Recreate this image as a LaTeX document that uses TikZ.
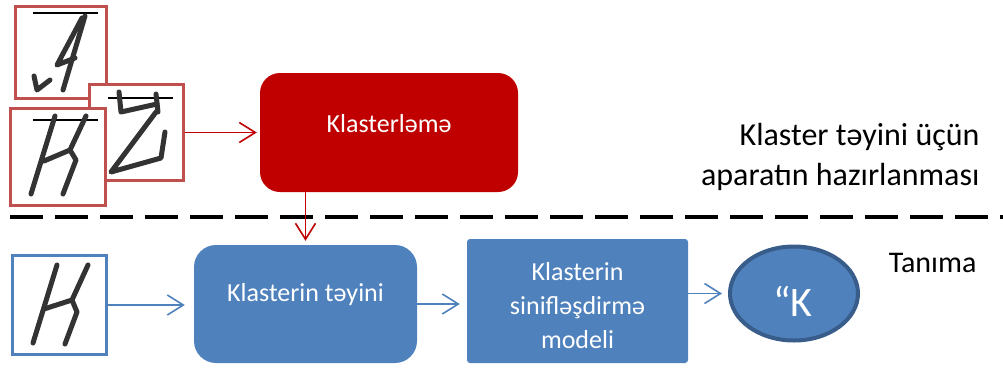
\documentclass[tikz,border=0pt]{standalone}
\usepackage{fontspec}
\setmainfont{Carlito}
\usepackage{tikz}
\usetikzlibrary{arrows.meta, positioning, shapes.geometric}
\definecolor{clusterred}{HTML}{C00000}
\definecolor{framered}{HTML}{C0504D}
\definecolor{officeblue}{HTML}{4F81BD}
\definecolor{officeedge}{HTML}{385D8A}
\tikzstyle{sample} = [
  rectangle, draw=framered, line width=3pt, fill=white, inner sep=0pt
]
\tikzstyle{redbox} = [
  rectangle, fill=clusterred, rounded corners=20pt, inner sep=0pt
]
\tikzstyle{bluebox} = [
  rectangle, fill=officeblue, inner sep=0pt
]
\tikzstyle{boxtext} = [text=white, font=\fontsize{26}{34}\selectfont, align=center]
\tikzstyle{sidetext} = [font=\fontsize{32}{40}\selectfont, align=right]
\tikzstyle{pen} = [line width=5pt, black!80, line cap=round, line join=round]
\tikzstyle{bar} = [line width=2pt, black]
\tikzstyle{redarrow} = [-{Straight Barb[length=16pt,width=20pt]}, clusterred, line width=1.6pt]
\tikzstyle{bluearrow} = [-{Straight Barb[length=16pt,width=20pt]}, officeblue, line width=1.6pt]

\begin{document}
\begin{tikzpicture}[x=1pt, y=-1pt]
  \useasboundingbox (0,0) rectangle (1003,367);

  % Training samples
  \node[sample, minimum width=91pt, minimum height=92pt] (sampleA) at (61,52.5) {};
  \draw[bar] (33,13) -- (98,13);
  \draw[pen] (85,16) -- (63,90);
  \draw[pen] (82,18) -- (57,65) -- (75,58);
  \draw[pen] (34,76) -- (37,90) -- (50,80);

  \node[sample, minimum width=94pt, minimum height=96pt] (sampleZ) at (136.5,132.5) {};
  \draw[bar] (108,98) -- (173,98);
  \draw[pen] (119,92) -- (121,112) -- (157,104);
  \draw[pen] (156,94) -- (158,112);
  \draw[pen] (156,112) -- (111,172) -- (161,158) -- (165,132);

  \node[sample, minimum width=95pt, minimum height=97pt] (sampleK) at (58,157) {};
  \draw[bar] (33,120) -- (98,120);
  \draw[pen] (55,116) -- (31,194);
  \draw[pen] (86,116) -- (70,150) -- (44,161);
  \draw[pen] (70,150) -- (76,160) -- (63,194);

  % Clustering
  \node[redbox, minimum width=258pt, minimum height=119pt] (klaster) at (389,132.5) {};
  \node[boxtext] (klastertext) at (389,124) {Klasterləmə};

  \node[sidetext, anchor=east] (prep) at (983,157) {Klaster təyini üçün\\aparatın hazırlanması};

  % Separator
  \draw[line width=4pt, dash pattern=on 33pt off 12pt] (10,217) -- (1003,217);

  % Recognition
  \node[sample, draw=officeblue, minimum width=94pt, minimum height=99pt] (input) at (59.5,305) {};
  \draw[pen] (57,265) -- (33,343);
  \draw[pen] (88,265) -- (72,300) -- (44,309);
  \draw[pen] (72,300) -- (77,312) -- (65,344);

  \node[bluebox, rounded corners=22pt, minimum width=223pt, minimum height=118pt] (tayin) at (305.5,304) {};
  \node[boxtext] (tayintext) at (305.5,295) {Klasterin təyini};

  \node[bluebox, rounded corners=3pt, minimum width=221pt, minimum height=124pt] (model) at (577.5,301) {};
  \node[boxtext] (modeltext) at (577.5,306) {Klasterin\\siniflәşdirmә\\modeli};

  \node[ellipse, fill=officeblue, draw=officeedge, line width=4pt, minimum width=128pt, minimum height=94pt, inner sep=0pt] (result) at (794,293.5) {};
  \node[text=white, font=\fontsize{42}{42}\selectfont] (resulttext) at (793,301) {“K};

  \node[font=\fontsize{30}{40}\selectfont, anchor=base east] (recog) at (980,272) {Tanıma};

  % Connections
  \draw[redarrow, shorten >=3pt] (sampleZ.east) -- (klaster.west);
  \draw[redarrow, shorten >=4pt] (tayin.north |- klaster.south) -- (tayin.north);
  \draw[bluearrow, shorten >=9pt] (input.east) -- (input.east -| tayin.west);
  \draw[bluearrow, shorten >=7pt] (tayin.east) -- (tayin.east -| model.west);
  \draw[bluearrow, shorten >=6pt] (model.east |- result.west) -- (result.west);

\end{tikzpicture}
\end{document}
